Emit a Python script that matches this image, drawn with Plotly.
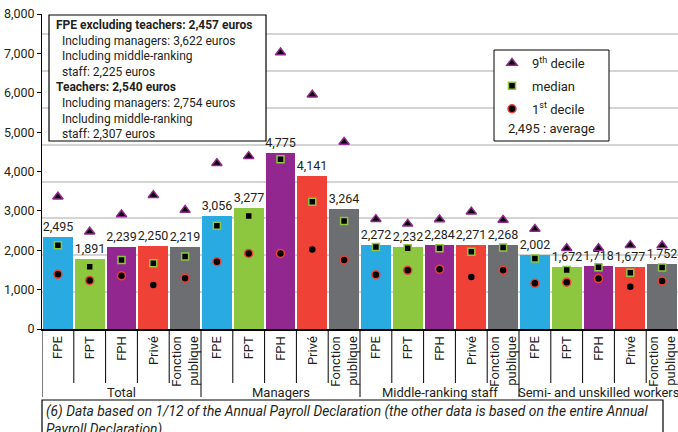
import plotly.graph_objects as go

groups = ["Total", "Managers", "Middle-ranking staff", "Semi- and unskilled workers"]
sectors = ["FPE", "FPT", "FPH", "Privé", "Fonction<br>publique"]
sector_colors = ["#29abe2", "#8dc63f", "#92278f", "#ef4136", "#6d6e71"]

average = [2495, 1891, 2239, 2250, 2219,
           3056, 3277, 4775, 4141, 3264,
           2272, 2232, 2284, 2271, 2268,
           2002, 1672, 1718, 1677, 1752]
decile9 = [3360, 2470, 2910, 3400, 3020,
           4210, 4390, 7020, 5950, 4750,
           2790, 2670, 2780, 2980, 2770,
           2540, 2050, 2050, 2130, 2120]
median = [2130, 1580, 1750, 1670, 1840,
          2620, 2870, 4310, 3230, 2740,
          2080, 2050, 2050, 1960, 2070,
          1790, 1500, 1570, 1430, 1560]
decile1 = [1390, 1230, 1350, 1120, 1290,
           1710, 1920, 1920, 2020, 1750,
           1380, 1490, 1520, 1320, 1490,
           1160, 1190, 1280, 1070, 1220]

box_text = ("<b>FPE excluding teachers: 2,457 euros</b><br>"
            "\u00a0\u00a0Including managers: 3,622 euros<br>"
            "\u00a0\u00a0Including middle-ranking<br>"
            "\u00a0\u00a0staff: 2,225 euros<br>"
            "<b>Teachers: 2,540 euros</b><br>"
            "\u00a0\u00a0Including managers: 2,754 euros<br>"
            "\u00a0\u00a0Including middle-ranking<br>"
            "\u00a0\u00a0staff: 2,307 euros")
footnote = ("<i>(6) Data based on 1/12 of the Annual Payroll Declaration (the other data is based on the entire Annual<br>"
            "Payroll Declaration).</i>")

FONT = "Roboto"
TXT = "#231f20"

n = len(groups) * len(sectors)
xs = list(range(n))
labels = [s for g in groups for s in sectors]
colors = [c for g in groups for c in sector_colors]

fig = go.Figure()
fig.add_trace(go.Bar(
    x=xs, y=average, marker=dict(color=colors, line=dict(width=0)), width=0.94,
    text=[f"{v:,}" for v in average], textposition="outside", constraintext="none",
    textfont=dict(size=12.5, color=TXT, family=FONT), cliponaxis=False,
    showlegend=False, yaxis="y"))

fig.add_trace(go.Scatter(
    x=xs, y=decile9, mode="markers", name="9<sup>th</sup> decile", yaxis="y2",
    legendgroup="a",
    marker=dict(symbol="triangle-up", size=9, color="black", line=dict(color="#92278f", width=1.5))))
fig.add_trace(go.Scatter(
    x=xs, y=median, mode="markers", name="median", yaxis="y2", legendgroup="b",
    marker=dict(symbol="square", size=7, color="black", line=dict(color="#8dc63f", width=1.5))))
fig.add_trace(go.Scatter(
    x=xs, y=decile1, mode="markers", name="1<sup>st</sup> decile", yaxis="y2", legendgroup="c",
    marker=dict(symbol="circle", size=8, color="black", line=dict(color="#ef4136", width=1.5))))

H = 315.0  # plot height in px
W = 636.0  # plot width in px
def py(p):
    return (329 - p) / H
def px(p):
    return (p - 42) / W

shapes = []
for i in range(n - 1):
    b = i + 0.5
    if (i + 1) % len(sectors) == 0:
        continue
    shapes.append(dict(type="line", xref="x", yref="paper", x0=b, x1=b, y0=0, y1=py(383),
                       line=dict(color="black", width=1)))
for k in range(len(groups)):
    b = k * len(sectors) - 0.5
    shapes.append(dict(type="line", xref="x", yref="paper", x0=b, x1=b, y0=0, y1=py(397),
                       line=dict(color="black", width=1)))
# top-left info box
shapes.append(dict(type="rect", xref="paper", yref="paper",
                   x0=px(49), x1=px(266), y0=py(141), y1=py(15),
                   fillcolor="white", line=dict(color="black", width=1.2), layer="above"))
# legend box
shapes.append(dict(type="rect", xref="paper", yref="paper",
                   x0=px(494), x1=px(609), y0=py(141), y1=py(50),
                   fillcolor="white", line=dict(color="black", width=1), layer="above"))
# footnote box
shapes.append(dict(type="rect", xref="paper", yref="paper",
                   x0=0, x1=px(663), y0=py(445), y1=py(400),
                   fillcolor="white", line=dict(color="black", width=1.2), layer="above"))

annotations = []
for k, g in enumerate(groups):
    annotations.append(dict(text=g, x=k * len(sectors) + 2, xref="x", y=py(392), yref="paper",
                            showarrow=False, xanchor="center", yanchor="middle",
                            font=dict(size=13, color=TXT, family=FONT)))
annotations.append(dict(text=box_text, xref="paper", yref="paper", x=px(54), y=py(16),
                        xanchor="left", yanchor="top", align="left", showarrow=False,
                        font=dict(size=12, color=TXT, family=FONT)))
annotations.append(dict(text="2,495 : average", xref="paper", yref="paper", x=px(506),
                        y=py(128), xanchor="left", yanchor="middle", showarrow=False,
                        font=dict(size=13, color=TXT, family=FONT)))
annotations.append(dict(text=footnote, xref="paper", yref="paper", x=px(44), y=py(401),
                        xanchor="left", yanchor="top", align="left", showarrow=False,
                        font=dict(size=13.8, color=TXT, family=FONT)))

fig.update_layout(
    width=678, height=432,
    margin=dict(l=42, r=0, t=14, b=103),
    plot_bgcolor="white", paper_bgcolor="white",
    font=dict(family=FONT, size=12, color=TXT),
    bargap=0,
    xaxis=dict(range=[-0.5, n - 0.5], tickvals=xs, ticktext=labels, tickangle=-90,
               showline=True, linecolor="black", linewidth=2, ticks="", showgrid=False,
               zeroline=False, tickfont=dict(size=13, color=TXT, family=FONT)),
    yaxis=dict(range=[0, 8550], dtick=1000, showgrid=True, gridcolor="#d4d4d4", gridwidth=1.5,
               showticklabels=False, ticks="", zeroline=False, showline=False),
    yaxis2=dict(range=[0, 8000], dtick=1000, overlaying="y", side="left", anchor="x",
                showgrid=False, zeroline=False, showline=True, linecolor="black", linewidth=1,
                ticks="outside", ticklen=4, tickcolor="black", tickformat=",",
                tickfont=dict(size=12.5, color=TXT, family=FONT)),
    legend=dict(x=px(492), y=py(48), xanchor="left", yanchor="top",
                bgcolor="rgba(0,0,0,0)", borderwidth=0, tracegroupgap=3,
                font=dict(size=13, color=TXT, family=FONT)),
    shapes=shapes, annotations=annotations,
)
fig.write_html("out.html")
